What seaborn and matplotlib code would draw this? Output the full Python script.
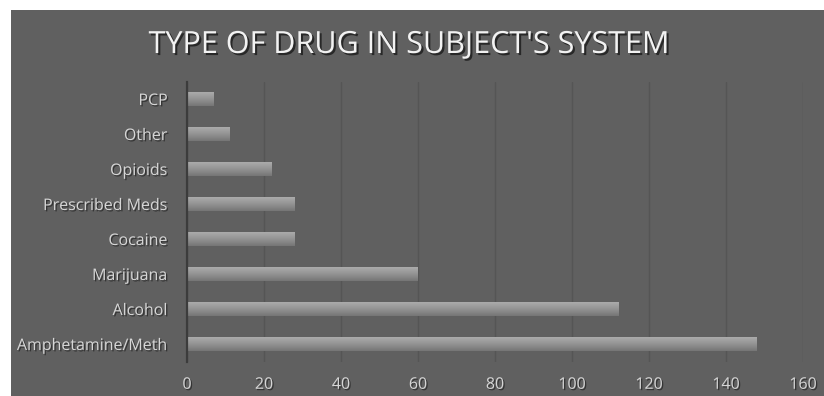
import matplotlib
matplotlib.use("Agg")
import matplotlib.pyplot as plt
import matplotlib.patheffects as pe
from matplotlib.patches import Rectangle
import numpy as np
import pandas as pd
import seaborn as sns

# Data: number of subjects with each drug type in their system
drugs = ["PCP", "Other", "Opioids", "Prescribed Meds", "Cocaine",
         "Marijuana", "Alcohol", "Amphetamine/Meth"]
counts = [7, 11, 22, 28, 28, 60, 112, 148]
x_ticks = [0, 20, 40, 60, 80, 100, 120, 140, 160]
title = "TYPE OF DRUG IN SUBJECT'S SYSTEM"

df = pd.DataFrame({"drug": drugs, "count": counts})

sns.set_theme(style="dark")
plt.rcParams["font.family"] = ["Open Sans", "DejaVu Sans"]

W, H = 824, 396
fig = plt.figure(figsize=(W / 100, H / 100), dpi=100, facecolor="white")

# dark slide-like backdrop
bg = Rectangle((11 / W, 0), 1 - 11 / W, 1 - 10 / H, transform=fig.transFigure,
               facecolor="#606060", edgecolor="none", zorder=-10)
fig.patches.append(bg)

ax = fig.add_axes([187 / W, 1 - 361.5 / H, (803 - 187) / W, (361.5 - 81.5) / H])
ax.set_facecolor("none")

sns.barplot(data=df, y="drug", x="count", orient="h", order=drugs,
            color="#8f8f8f", width=0.42, saturation=1, linewidth=0,
            edgecolor="none", ax=ax, zorder=3)

# soft vertical sheen on each bar: lighter on top, darker below
grad = np.linspace(1, 0, 64).reshape(-1, 1)
cmap = matplotlib.colors.LinearSegmentedColormap.from_list(
    "sheen", ["#767676", "#959595", "#aeaeae"])
for bar in list(ax.patches):
    x0, y0 = bar.get_x(), bar.get_y()
    w, h = bar.get_width(), bar.get_height()
    im = ax.imshow(grad, extent=[x0, x0 + w, y0 + h, y0], aspect="auto",
                   cmap=cmap, zorder=4, origin="upper")
    im.set_clip_path(bar)

ax.set_xlim(0, 160)
ax.set_ylim(len(drugs) - 0.5, -0.5)
ax.set_xticks(x_ticks)
ax.set_xticklabels([str(t) for t in x_ticks])

ax.xaxis.grid(True, color="#555555", linewidth=1.0, zorder=1)
ax.yaxis.grid(False)
for side in ["top", "right", "bottom"]:
    ax.spines[side].set_visible(False)
ax.spines["left"].set_color("#3c3c3c")
ax.spines["left"].set_linewidth(1.6)
ax.spines["left"].set_zorder(5)

shadow = [pe.withSimplePatchShadow(offset=(1, -1), shadow_rgbFace="#2a2a2a", alpha=0.8)]
ax.tick_params(axis="both", length=0, colors="#d4d4d4", labelsize=11.5)
ax.tick_params(axis="x", pad=11)
ax.tick_params(axis="y", pad=14)
for lab in ax.get_xticklabels() + ax.get_yticklabels():
    lab.set_path_effects(shadow)
    lab.set_color("#d6d6d6")

ax.set_xlabel("")
ax.set_ylabel("")

fig.text(409 / W, 1 - 45 / H, title, ha="center", va="center",
         fontsize=22, color="#f2f2f2",
         path_effects=[pe.withSimplePatchShadow(offset=(1.5, -1.5),
                                                shadow_rgbFace="#222222", alpha=0.9)])

fig.savefig("out.png", dpi=100, facecolor="white")
